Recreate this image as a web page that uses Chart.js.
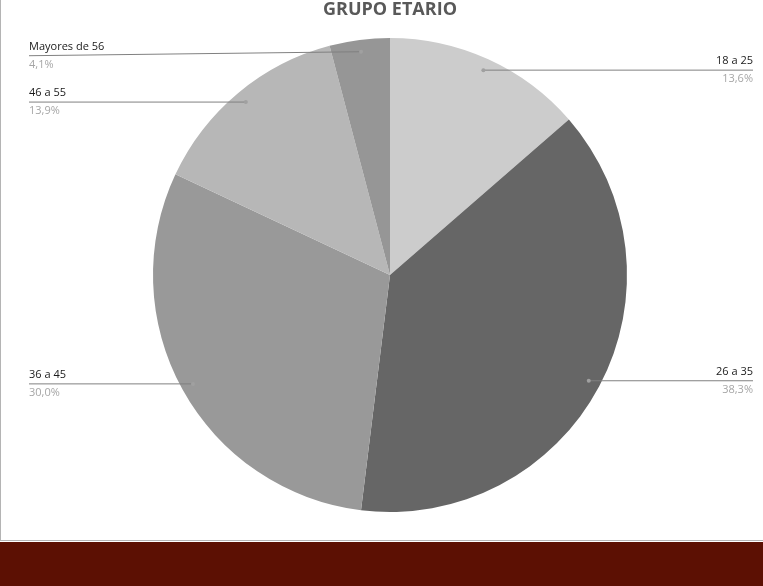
<!DOCTYPE html>
<html>
<head>
<meta charset="UTF-8">
<title>Grupo etario</title>
<style>
body {
	margin: 0;
	background-color: #ffffff;
	overflow: hidden;
	font-family: 'Open Sans', sans-serif;
}
.frame {
	position: absolute;
	left: 0;
	top: -2px;
	width: 800px;
	height: 541px;
	border: 1px solid #b4b4b4;
	background: #ffffff;
}
.chart-box {
	position: absolute;
	left: 0;
	top: 0;
	width: 763px;
	height: 540px;
}
.footer {
	position: absolute;
	left: 0;
	top: 542px;
	width: 763px;
	height: 44px;
	background-color: #5c1003;
}
</style>
<script src="https://cdn.jsdelivr.net/npm/chart.js"></script>
<script>
// data
var categories = ['18 a 25', '26 a 35', '36 a 45', '46 a 55', 'Mayores de 56'];
var percents = [13.6, 38.3, 30.0, 13.9, 4.1];
var sliceColors = ['#cccccc', '#666666', '#999999', '#b7b7b7', '#969696'];
var chartTitle = 'GRUPO ETARIO';

// callout labels drawn next to each slice, excel style
var calloutPlugin = {
	id: 'callouts',
	afterDatasetsDraw: function(chart, args, opts) {
		var ctx = chart.ctx;
		var meta = chart.getDatasetMeta(0);
		var labels = chart.data.labels;
		var vals = chart.data.datasets[0].data;
		ctx.save();
		meta.data.forEach(function(arc, i) {
			var p = arc.getProps(['x', 'y', 'startAngle', 'endAngle', 'outerRadius'], true);
			var mid = (p.startAngle + p.endAngle) / 2;
			var dx = p.x + Math.cos(mid) * p.outerRadius * 0.95;
			var dy = p.y + Math.sin(mid) * p.outerRadius * 0.95;
			var right = Math.cos(mid) >= 0;
			var endX = right ? opts.rightX : opts.leftX;
			var endY = dy + (opts.shift[i] || 0);

			ctx.strokeStyle = '#808080';
			ctx.lineWidth = 1;
			ctx.beginPath();
			ctx.moveTo(dx, dy);
			ctx.lineTo(endX, endY);
			ctx.stroke();

			ctx.fillStyle = '#a0a0a0';
			ctx.beginPath();
			ctx.arc(dx, dy, 2, 0, Math.PI * 2);
			ctx.fill();

			ctx.textAlign = right ? 'right' : 'left';
			ctx.textBaseline = 'alphabetic';
			ctx.font = '11px "Open Sans", sans-serif';
			ctx.fillStyle = '#1a1a1a';
			ctx.fillText(labels[i], endX, Math.round(endY) - 6);
			ctx.fillStyle = '#a6a6a6';
			ctx.fillText(vals[i].toFixed(1).replace('.', ',') + '%', endX, Math.round(endY) + 12);
		});

		// title, partly cut at the top like the original
		ctx.textAlign = 'center';
		ctx.font = 'bold 18px "Open Sans", sans-serif';
		ctx.fillStyle = '#595959';
		ctx.fillText(chartTitle, meta.data[0].x, 15);
		ctx.restore();
	}
};

document.addEventListener("DOMContentLoaded", function() {
	var ctx = document.getElementById('pieChart').getContext('2d');
	new Chart(ctx, {
		type: 'pie',
		data: {
			labels: categories,
			datasets: [{
				data: percents,
				backgroundColor: sliceColors,
				borderWidth: 0
			}]
		},
		options: {
			responsive: false,
			animation: false,
			layout: {
				padding: { top: 38, bottom: 28, left: 153, right: 136 }
			},
			plugins: {
				legend: { display: false },
				tooltip: { enabled: false },
				callouts: { leftX: 29, rightX: 753, shift: [0, 0, 0, 0, 4] }
			}
		},
		plugins: [calloutPlugin]
	});
});
</script>
</head>
<body>
	<div class="frame"></div>
	<div class="chart-box">
		<canvas id="pieChart" width="763" height="540"></canvas>
	</div>
	<div class="footer"></div>
</body>
</html>
